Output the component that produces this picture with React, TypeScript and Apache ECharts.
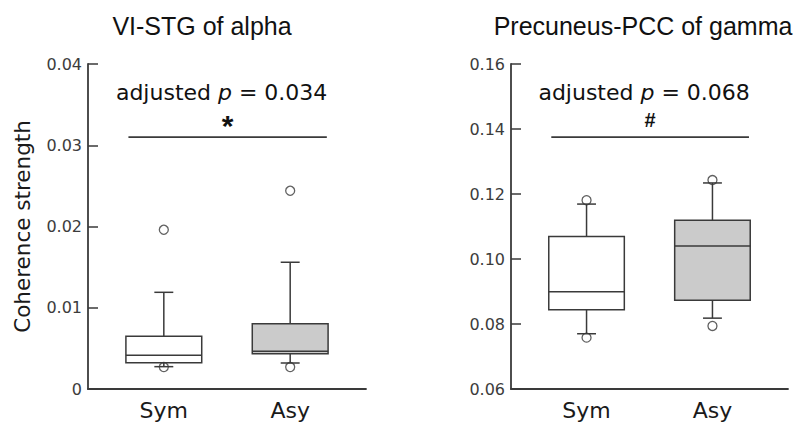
import React, { useEffect, useRef } from "react";
import * as echarts from "echarts";

const categories = ["Sym", "Asy"];
const titles = ["VI-STG of alpha", "Precuneus-PCC of gamma"];
const yAxisName = "Coherence strength";

// [lower whisker, Q1, median, Q3, upper whisker]
const alphaBoxes = [
  [0.00275, 0.00324, 0.00415, 0.0065, 0.0119],
  [0.0032, 0.00435, 0.00464, 0.00804, 0.0156],
];
const alphaOutliers = [
  [0, 0.0196],
  [0, 0.0027],
  [1, 0.0244],
  [1, 0.0027],
];
const gammaBoxes = [
  [0.077, 0.0844, 0.0899, 0.1069, 0.1169],
  [0.0818, 0.0873, 0.104, 0.1119, 0.1234],
];
const gammaOutliers = [
  [0, 0.1181],
  [0, 0.0758],
  [1, 0.1243],
  [1, 0.0794],
];

const yMin = [0, 0.06];
const yMax = [0.04, 0.16];
const yInterval = [0.01, 0.02];

const pValues = ["0.034", "0.068"];
const sigMarks = ["*", "#"];
const bracketY = [0.031, 0.1375];
const bracketSpan = [-0.28, 1.29];

const BOX_FILLS = ["#ffffff", "#cbcbcb"];
const LINE = "#3a3a3a";
const FONT = "'Liberation Sans', Arial, sans-serif";
const FONT2 = "'DejaVu Sans', sans-serif";
const BOX_HALF = 0.3;
const CAP_HALF = 0.075;

function boxSeries(g: number, boxes: number[][]) {
  return {
    type: "custom",
    xAxisIndex: g,
    yAxisIndex: g,
    silent: true,
    data: boxes.map((b, i) => [i, ...b]),
    encode: { x: 0, y: [1, 2, 3, 4, 5] },
    renderItem: (params: any, api: any) => {
      const x = api.value(0) as number;
      const [lo, q1, med, q3, hi] = [1, 2, 3, 4, 5].map((d) => api.value(d) as number);
      const cx = api.coord([x, med])[0];
      const l = api.coord([x - BOX_HALF, q3]);
      const r = api.coord([x + BOX_HALF, q1]);
      const yLo = api.coord([x, lo])[1];
      const yHi = api.coord([x, hi])[1];
      const yMed = api.coord([x, med])[1];
      const capL = api.coord([x - CAP_HALF, lo])[0];
      const capR = api.coord([x + CAP_HALF, lo])[0];
      const st = { stroke: LINE, lineWidth: 1.5, fill: "none" };
      return {
        type: "group",
        children: [
          { type: "line", shape: { x1: cx, y1: yHi, x2: cx, y2: l[1] }, style: st },
          { type: "line", shape: { x1: cx, y1: r[1], x2: cx, y2: yLo }, style: st },
          { type: "line", shape: { x1: capL, y1: yHi, x2: capR, y2: yHi }, style: st },
          { type: "line", shape: { x1: capL, y1: yLo, x2: capR, y2: yLo }, style: st },
          {
            type: "rect",
            shape: { x: l[0], y: l[1], width: r[0] - l[0], height: r[1] - l[1] },
            style: { stroke: LINE, lineWidth: 1.5, fill: BOX_FILLS[x] },
          },
          { type: "line", shape: { x1: l[0], y1: yMed, x2: r[0], y2: yMed }, style: st },
        ],
      };
    },
  };
}

function outlierSeries(g: number, pts: number[][]) {
  return {
    type: "scatter",
    xAxisIndex: g,
    yAxisIndex: g,
    silent: true,
    z: 5,
    symbol: "circle",
    symbolSize: 9,
    itemStyle: { color: "rgba(0,0,0,0)", borderColor: LINE, borderWidth: 1.3 },
    data: pts,
  };
}

function bracketSeries(g: number) {
  return {
    type: "custom",
    xAxisIndex: g,
    yAxisIndex: g,
    silent: true,
    data: [[bracketSpan[0], bracketSpan[1], bracketY[g]]],
    encode: { x: [0, 1], y: 2 },
    renderItem: (params: any, api: any) => {
      const a = api.coord([api.value(0), api.value(2)]);
      const b = api.coord([api.value(1), api.value(2)]);
      const mid = (a[0] + b[0]) / 2;
      return {
        type: "group",
        children: [
          {
            type: "line",
            shape: { x1: a[0], y1: a[1], x2: b[0], y2: b[1] },
            style: { stroke: LINE, lineWidth: 1.8 },
          },
          {
            type: "text",
            x: mid - 6,
            y: a[1] - 45,
            style: {
              text: `adjusted {i|p} = ${pValues[g]}`,
              rich: {
                i: { fontStyle: "italic", fontSize: 22, fontFamily: FONT2, fill: "#111" },
              },
              fontSize: 22,
              fontFamily: FONT2,
              fill: "#111",
              align: "center",
              verticalAlign: "middle",
            },
          },
          {
            type: "text",
            x: mid,
            y: g === 0 ? a[1] - 12 : a[1] - 17,
            style: {
              text: sigMarks[g],
              fontSize: g === 0 ? 30 : 20,
              fontFamily: FONT,
              fontWeight: "bold",
              fill: "#111",
              align: "center",
              verticalAlign: "middle",
            },
          },
        ],
      };
    },
  };
}

export default function App() {
  const ref = useRef<HTMLDivElement>(null);
  useEffect(() => {
    if (!ref.current) return;
    const chart = echarts.init(ref.current, null, { renderer: "svg" });
    const grids = [
      { left: 88, top: 64, width: 278, height: 325 },
      { left: 511, top: 64, width: 277, height: 325 },
    ];
    const xAxes = grids.map((_, g) => ({
      gridIndex: g,
      type: "value",
      min: -0.6,
      max: 1.6,
      axisLine: { show: true, onZero: false, lineStyle: { color: LINE, width: 1.8 } },
      axisTick: { show: false },
      splitLine: { show: false },
      axisLabel: {
        customValues: [0, 1],
        formatter: (v: number) => categories[Math.round(v)] ?? "",
        fontSize: 22,
        fontFamily: FONT2,
        color: "#1a1a1a",
        margin: 10,
      },
    }));
    const yAxes = grids.map((_, g) => ({
      gridIndex: g,
      type: "value",
      min: yMin[g],
      max: yMax[g],
      interval: yInterval[g],
      name: g === 0 ? yAxisName : "",
      nameLocation: "middle",
      nameGap: 55,
      nameTextStyle: { fontSize: 21.5, fontFamily: FONT2, color: "#1a1a1a" },
      axisLine: { show: true, onZero: false, lineStyle: { color: LINE, width: 1.8 } },
      axisTick: { show: true, inside: true, length: 10, lineStyle: { color: LINE, width: 1.5 } },
      splitLine: { show: false },
      axisLabel: {
        formatter: (v: number) => (v === 0 ? "0" : v.toFixed(2)),
        fontSize: 16,
        fontFamily: FONT2,
        color: "#3c3c3c",
        margin: 6,
      },
    }));
    chart.setOption({
      animation: false,
      backgroundColor: "#ffffff",
      title: [
        {
          text: titles[0],
          left: 197,
          top: 8,
          textAlign: "center",
          textStyle: { fontSize: 25, fontWeight: "normal", color: "#111", fontFamily: FONT },
        },
        {
          text: titles[1],
          left: 638,
          top: 8,
          textAlign: "center",
          textStyle: { fontSize: 25, fontWeight: "normal", color: "#111", fontFamily: FONT },
        },
      ],
      grid: grids,
      xAxis: xAxes,
      yAxis: yAxes,
      series: [
        boxSeries(0, alphaBoxes),
        boxSeries(1, gammaBoxes),
        outlierSeries(0, alphaOutliers),
        outlierSeries(1, gammaOutliers),
        bracketSeries(0),
        bracketSeries(1),
      ],
    });
    return () => chart.dispose();
  }, []);
  return (
    <div
      ref={ref}
      style={{ position: "fixed", left: 0, top: 0, width: 802, height: 422 }}
    />
  );
}
